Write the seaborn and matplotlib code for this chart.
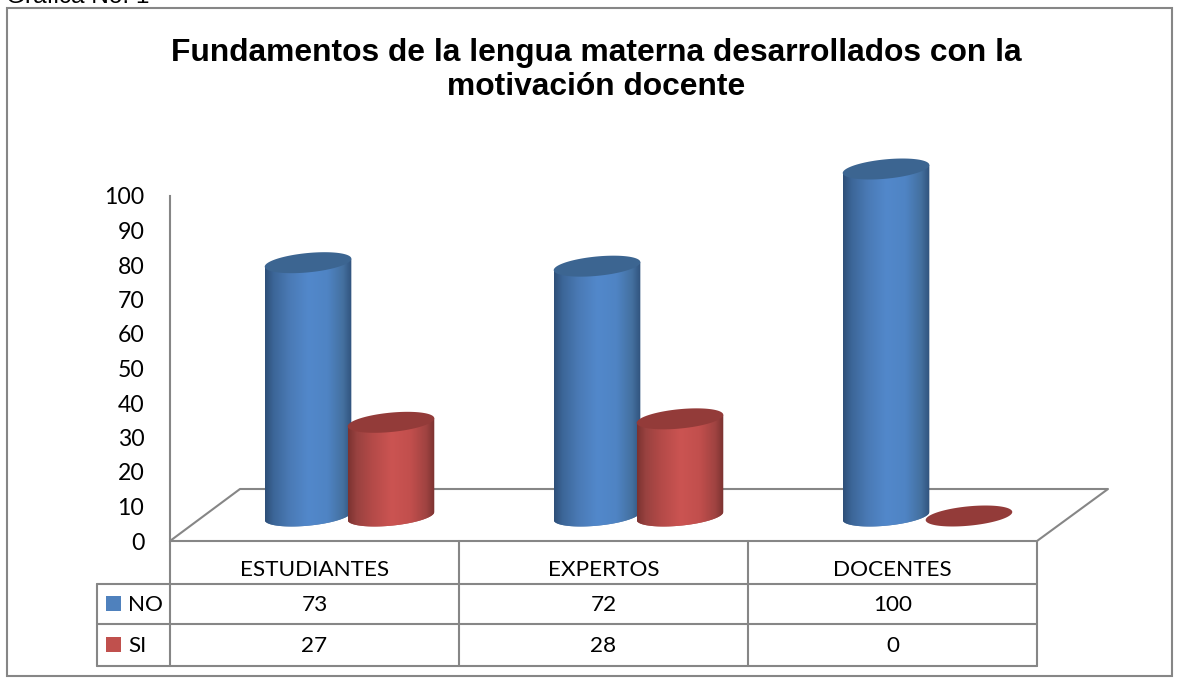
import numpy as np
import pandas as pd
import matplotlib
matplotlib.use("Agg")
import matplotlib.pyplot as plt
from matplotlib.colors import LinearSegmentedColormap
from matplotlib.patches import Polygon, Rectangle
import seaborn as sns

categorias = ["ESTUDIANTES", "EXPERTOS", "DOCENTES"]
series = ["NO", "SI"]
valores_no = [73, 72, 100]
valores_si = [27, 28, 0]
marcas_y = [0, 10, 20, 30, 40, 50, 60, 70, 80, 90, 100]
titulo = "Fundamentos de la lengua materna desarrollados con la\nmotivación docente"
encabezado = "Gráfica No. 1"

W, H = 1184, 679
GRAY = "#868686"
SWATCH = {"NO": "#4f81bd", "SI": "#c0504d"}
TOPS = {"NO": "#3c6591", "SI": "#933b39"}
RAMPS = {
    "NO": ["#2e4f78", "#3c6698", "#4a7ab5", "#5288cb", "#4f84c4", "#44709f", "#30527c"],
    "SI": ["#7b3230", "#994240", "#b44a48", "#cb5452", "#c24f4d", "#a04341", "#7a3230"],
}
BODY_FONT = "Lato"

df = pd.DataFrame({
    "categoria": categorias * 2,
    "serie": [series[0]] * 3 + [series[1]] * 3,
    "valor": valores_no + valores_si,
})

sns.set_theme(style="white")
fig = plt.figure(figsize=(W / 100, H / 100), dpi=100, facecolor="white")


def box(x0, y_top, x1, y_bottom):
    return [x0 / W, 1 - y_bottom / H, (x1 - x0) / W, (y_bottom - y_top) / H]


# Pixel canvas for the frame and the chart floor
bg = fig.add_axes([0, 0, 1, 1], zorder=0)
bg.set_xlim(0, W)
bg.set_ylim(H, 0)
bg.axis("off")
bg.add_patch(Rectangle((7, 8), 1165, 668, fill=False, ec=GRAY, lw=1.5))
bg.plot([170, 240, 1108, 1037, 170], [541, 489, 489, 541, 541], color=GRAY, lw=1.5)
bg.text(6, 3, encabezado, fontsize=17.6, family="Liberation Sans", color="black", va="baseline", ha="left")
fig.text(596 / W, 1 - 70 / H, titulo, ha="center", va="center", fontsize=22.9,
         fontweight="bold", family="Liberation Sans", color="black", linespacing=1.21)

# Value axis and category labels
ax = fig.add_axes(box(170, 196, 1037, 541), zorder=1)
ax.patch.set_alpha(0)
ax.set_xlim(-0.5, 2.5)
ax.set_ylim(0, 100)
ax.set_yticks(marcas_y)
ax.set_xticks(range(3))
ax.set_xticklabels(categorias, fontsize=16.2, family=BODY_FONT, color="black")
ax.tick_params(axis="y", length=0, pad=18.5, labelsize=16.6, labelcolor="black")
ax.tick_params(axis="x", length=0, pad=13.5)
for lab in ax.get_yticklabels():
    lab.set_family(BODY_FONT)
for side in ["top", "right", "bottom"]:
    ax.spines[side].set_visible(False)
ax.spines["left"].set_color(GRAY)
ax.spines["left"].set_linewidth(1.5)
ax.set_xlabel("")
ax.set_ylabel("")

# Bars stand on the middle of the floor, so their axes is shifted into the depth.
# The axes reaches past 0 and 100 so the rounded ends of the cylinders fit inside it.
PX_PER_UNIT = 3.47
Y_LOW, Y_HIGH = -10, 110
axb = fig.add_axes(box(205, 516 - Y_HIGH * PX_PER_UNIT, 1072, 516 - Y_LOW * PX_PER_UNIT), zorder=2)
sns.barplot(data=df, x="categoria", y="valor", hue="serie", order=categorias, hue_order=series,
            palette=SWATCH, width=0.574, gap=0, legend=False, ax=axb)
axb.set_xlim(-0.5, 2.5)
axb.set_ylim(Y_LOW, Y_HIGH)
axb.axis("off")
axb.patch.set_alpha(0)

px_x = 3 / 867
px_y = 1 / PX_PER_UNIT
ELL_B = 9.7 * px_y
ELL_K = 4.0 * px_y
t = np.linspace(0, 2 * np.pi, 121)

for i, bar in enumerate(axb.patches[:6]):
    name = series[i // 3]
    cx = bar.get_x() + bar.get_width() / 2
    half = 43.3 * px_x
    top = bar.get_height()
    z = 3 + (i // 3) * 2 + (i % 3) * 0.1
    # lower half of the base ellipse, from the left end to the right end
    a = np.linspace(np.pi, 0, 61)
    low = np.column_stack([cx + half * np.cos(a), ELL_B * -np.sin(a) + ELL_K * np.cos(a)])
    up = np.array([[cx + half, top + ELL_K], [cx - half, top - ELL_K]])
    outline = np.vstack([low, up])
    if top > 0:
        clip = Polygon(outline, closed=True, transform=axb.transData)
        bar.set_zorder(z)
        bar.set_edgecolor("none")
        bar.set_x(cx - half)
        bar.set_width(2 * half)
        bar.set_y(-ELL_B * 2)
        bar.set_height(top + ELL_B * 2 + ELL_K)
        bar.set_clip_path(clip)
        cmap = LinearSegmentedColormap.from_list(
            name, list(zip([0, 0.1, 0.28, 0.5, 0.72, 0.9, 1], RAMPS[name])))
        im = axb.imshow(np.linspace(0, 1, 256)[None, :], cmap=cmap, aspect="auto",
                        extent=[cx - half, cx + half, -ELL_B * 2, top + ELL_K],
                        zorder=z + 0.1, interpolation="bilinear")
        im.set_clip_path(clip)
    ell = np.column_stack([cx + half * np.cos(t), top + ELL_B * np.sin(t) + ELL_K * np.cos(t)])
    axb.add_patch(Polygon(ell, closed=True, fc=TOPS[name], ec="none", zorder=z + 0.2, clip_on=False))
axb.set_xlim(-0.5, 2.5)
axb.set_ylim(Y_LOW, Y_HIGH)

# Data table under the chart
axt = fig.add_axes(box(170, 541, 1037, 666), zorder=3)
axt.set_xlim(-0.5, 2.5)
axt.set_ylim(125, 0)
axt.axis("off")
axt.patch.set_alpha(0)
row_edges = [43, 83, 125]
left_x = (97 - 170) * 3 / 867 - 0.5
for yy in row_edges:
    axt.plot([left_x, 2.5], [yy, yy], color=GRAY, lw=1.5, clip_on=False)
for xx in [-0.5, 0.5, 1.5, 2.5]:
    axt.plot([xx, xx], [0, 125], color=GRAY, lw=1.5, clip_on=False)
axt.plot([left_x, left_x], [43, 125], color=GRAY, lw=1.5, clip_on=False)
for r, (name, vals) in enumerate(zip(series, [valores_no, valores_si])):
    yc = (row_edges[r] + row_edges[r + 1]) / 2
    axt.add_patch(Rectangle((left_x + 9 * 3 / 867, yc - 8), 15 * 3 / 867, 15, fc=SWATCH[name], ec="none",
                            clip_on=False))
    axt.text(left_x + 31 * 3 / 867, yc + 1, name, fontsize=16.2, family=BODY_FONT, color="black",
             ha="left", va="center", clip_on=False)
    for c, v in enumerate(vals):
        axt.text(c, yc + 1, str(v), fontsize=16.2, family=BODY_FONT, color="black", ha="center", va="center")

fig.savefig("out.png", dpi=100, facecolor="white")
